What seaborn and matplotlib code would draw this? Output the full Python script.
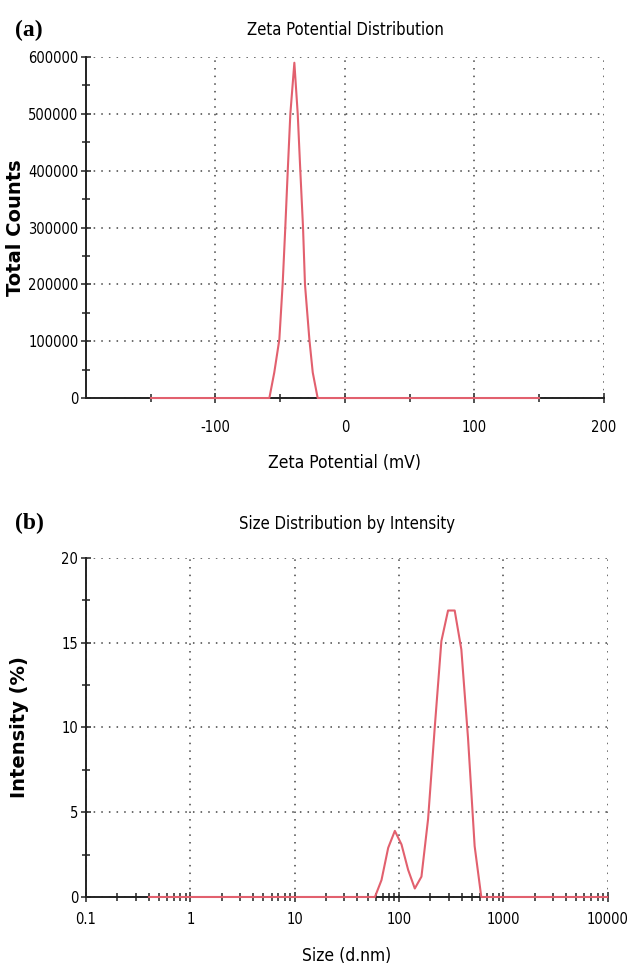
import numpy as np
import pandas as pd
import matplotlib
matplotlib.use("Agg")
import matplotlib.pyplot as plt
import matplotlib.ticker as mticker
import seaborn as sns

# (a) zeta potential distribution
zeta_mv = [-150, -100, -70, -58.4, -54.6, -50.7, -48.1, -46.1, -44.2, -42.2, -39.1,
           -36.5, -34.5, -32.4, -30.9, -27.5, -24.9, -21.1, 0, 50, 100, 150]
zeta_counts = [0, 0, 0, 0, 45000, 103000, 202000, 300000, 400000, 500000, 590000,
               500000, 400000, 300000, 200000, 103000, 45000, 0, 0, 0, 0, 0]

# (b) size distribution by intensity
size_nm = [0.4, 1, 10, 40, 58.8, 68.0, 78.8, 91.3, 105.7, 122.4, 141.8, 164.2, 190.1,
           220.2, 255.0, 295.3, 342.0, 396.1, 458.7, 531.2, 615.1, 712.4, 1000, 10000]
intensity = [0, 0, 0, 0, 0, 1.0, 2.9, 3.9, 3.1, 1.6, 0.5, 1.2, 4.6,
             10.0, 15.1, 16.9, 16.9, 14.6, 9.4, 3.0, 0, 0, 0, 0]

sns.set_theme(style="white")
plt.rcParams["font.family"] = ["DejaVu Sans"]
plt.rcParams["font.stretch"] = "condensed"
plt.rcParams["axes.unicode_minus"] = False
plt.rcParams["text.color"] = "black"
plt.rcParams["axes.labelcolor"] = "black"

line_col = "#e2606e"
grid_kw = dict(color="#444444", linestyle=(0, (1, 4)), linewidth=1.1)

fig = plt.figure(figsize=(6.3, 9.67), dpi=100)
ax1 = fig.add_axes([0.1365, 0.5884, 0.8222, 0.3526])
ax2 = fig.add_axes([0.1365, 0.0724, 0.8280, 0.3506])

df_a = pd.DataFrame({"zeta": zeta_mv, "counts": zeta_counts})
sns.lineplot(data=df_a, x="zeta", y="counts", ax=ax1, color=line_col, lw=1.5,
             zorder=5, clip_on=False)
ax1.set_xlim(-200, 200)
ax1.set_ylim(0, 600000)
ax1.set_xticks([-100, 0, 100, 200])
ax1.set_xticks(np.arange(-150, 201, 50), minor=True)
ax1.set_yticks(np.arange(0, 600001, 100000))
ax1.set_yticks(np.arange(50000, 600000, 100000), minor=True)
ax1.set_title("Zeta Potential Distribution", fontsize=12, pad=16)
ax1.set_xlabel("Zeta Potential (mV)", fontsize=12.5, labelpad=14)
ax1.set_ylabel("Total Counts", fontsize=14, fontweight="bold", fontstretch="normal")
ax1.yaxis.set_label_coords(-0.118, 0.5)

df_b = pd.DataFrame({"size": size_nm, "intensity": intensity})
sns.lineplot(data=df_b, x="size", y="intensity", ax=ax2, color=line_col, lw=1.5,
             zorder=5, clip_on=False)
ax2.set_xscale("log")
ax2.set_xlim(0.1, 10000)
ax2.set_ylim(0, 20)
ax2.set_xticks([0.1, 1, 10, 100, 1000, 10000])
ax2.xaxis.set_major_formatter(mticker.FuncFormatter(lambda v, p: f"{v:g}"))
ax2.xaxis.set_minor_locator(mticker.LogLocator(base=10, subs=np.arange(2, 10)))
ax2.xaxis.set_minor_formatter(mticker.NullFormatter())
ax2.set_yticks([0, 5, 10, 15, 20])
ax2.set_yticks([2.5, 7.5, 12.5, 17.5], minor=True)
ax2.set_title("Size Distribution by Intensity", fontsize=12, pad=21)
ax2.set_xlabel("Size (d.nm)", fontsize=12.5, labelpad=15)
ax2.set_ylabel("Intensity (%)", fontsize=14, fontweight="bold", fontstretch="normal")
ax2.yaxis.set_label_coords(-0.110, 0.5)

for ax in (ax1, ax2):
    ax.grid(True, which="major", **grid_kw)
    for side in ("top", "right"):
        ax.spines[side].set_visible(False)
    for side in ("left", "bottom"):
        ax.spines[side].set_color("#222222")
        ax.spines[side].set_linewidth(1.4)
    ax.tick_params(which="major", direction="inout", length=7, width=1.1,
                   labelsize=10.5, colors="#222222", labelcolor="black",
                   bottom=True, left=True, pad=2)
    ax.tick_params(which="minor", direction="inout", length=6, width=1.1,
                   colors="#222222", bottom=True, left=True)
    ax.set_axisbelow(True)

ax1.tick_params(axis="x", which="major", pad=12)
ax2.tick_params(axis="x", which="major", pad=7)

fig.text(0.024, 0.969, "(a)", fontsize=17, fontweight="bold",
         family=["Liberation Serif", "DejaVu Serif"], fontstretch="normal", va="center")
fig.text(0.024, 0.459, "(b)", fontsize=17, fontweight="bold",
         family=["Liberation Serif", "DejaVu Serif"], fontstretch="normal", va="center")

fig.savefig("out.png", dpi=100)
